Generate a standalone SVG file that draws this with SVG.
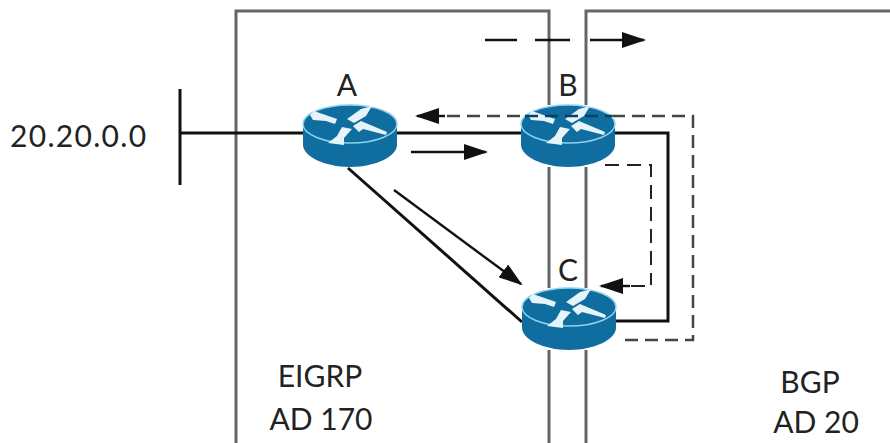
<svg xmlns="http://www.w3.org/2000/svg" width="890" height="443" viewBox="0 0 890 443">
<style>
text{font-family:Lato,"Open Sans","Liberation Sans",sans-serif;fill:#222;font-size:30px}
.c{text-anchor:middle}
.box{fill:none;stroke:#666;stroke-width:3}
.k{fill:none;stroke:#111;stroke-width:3}
.t{fill:none;stroke:#111;stroke-width:2.4}
.d{fill:none;stroke:#444;stroke-width:2.5;stroke-dasharray:13 7}
.d2{fill:none;stroke:#222;stroke-width:2;stroke-dasharray:14 8}
.top{fill:#0f6d9f;stroke:#8fd3ee;stroke-width:1.5}
.body{fill:#0f6d9f}
.ar{fill:#e6f4fa}
</style>
<defs>
<marker id="ah" markerWidth="24" markerHeight="16" refX="22" refY="8" orient="auto" markerUnits="userSpaceOnUse"><path d="M0 0L24 8L0 16Z" fill="#111"/></marker>
<g id="router">
<path class="body" d="M-47 0V21C-47 32 -26 43 0 43C26 43 47 32 47 21V0Z"/>
<ellipse class="top" cx="0" cy="0" rx="47" ry="19"/>
<path class="ar" d="M-40 -9L-36 -13L-13 -5L-15 0L-24 -3L-37 -4ZM-3 -5L11 -15L22 -18L16 -8L4 -1ZM3 2L11 -3L37 8L36 11L13 5L9 8ZM-8 3L2 5L-6 14L-6 21L-22 19L-13 12Z"/>
</g>
</defs>
<g id="connectors">
<path class="box" d="M236 443V11H549V105M549 167V288M549 350V443"/>
<path class="box" d="M586 105V11H890M586 167V288M586 350V443"/>
<path class="k" d="M180 133H303M397 133H522M615 133H668V321H616"/>
<path class="k" d="M180 89V185"/>
<path class="k" d="M348 168L522 322"/>
<path class="t" d="M485 40H517M535 40H570M590 40H644" marker-end="url(#ah)"/>
<path class="t" d="M411 152H486" marker-end="url(#ah)"/>
<path class="t" d="M394 190L521 284" marker-end="url(#ah)"/>
<path class="d" d="M612 116H693V340H622"/>
<path class="d" d="M520 116H440"/>
<path class="t" d="M445 116H417" marker-end="url(#ah)"/>
<path class="d2" d="M605 165H651V285"/>
<path class="d2" d="M645 286H625"/>
<path class="t" d="M630 286H601" marker-end="url(#ah)"/>
</g>
<g id="router-a"><use href="#router" x="350" y="124"/><text class="c" x="347" y="96">A</text></g>
<g id="router-b"><use href="#router" x="568" y="124"/><path d="M525 116H612" fill="none" stroke="#0a3f66" stroke-width="2.5" stroke-dasharray="13 7"/><text class="c" x="568" y="96">B</text></g>
<g id="router-c"><use href="#router" x="569" y="307"/><text class="c" x="568" y="281">C</text></g>
<g id="network"><text x="10" y="147" letter-spacing="1.3">20.20.0.0</text></g>
<g id="eigrp"><text class="c" x="320" y="387">EIGRP</text><text class="c" x="321" y="430">AD 170</text></g>
<g id="bgp"><text class="c" x="810" y="393">BGP</text><text class="c" x="816" y="433">AD 20</text></g>
</svg>
